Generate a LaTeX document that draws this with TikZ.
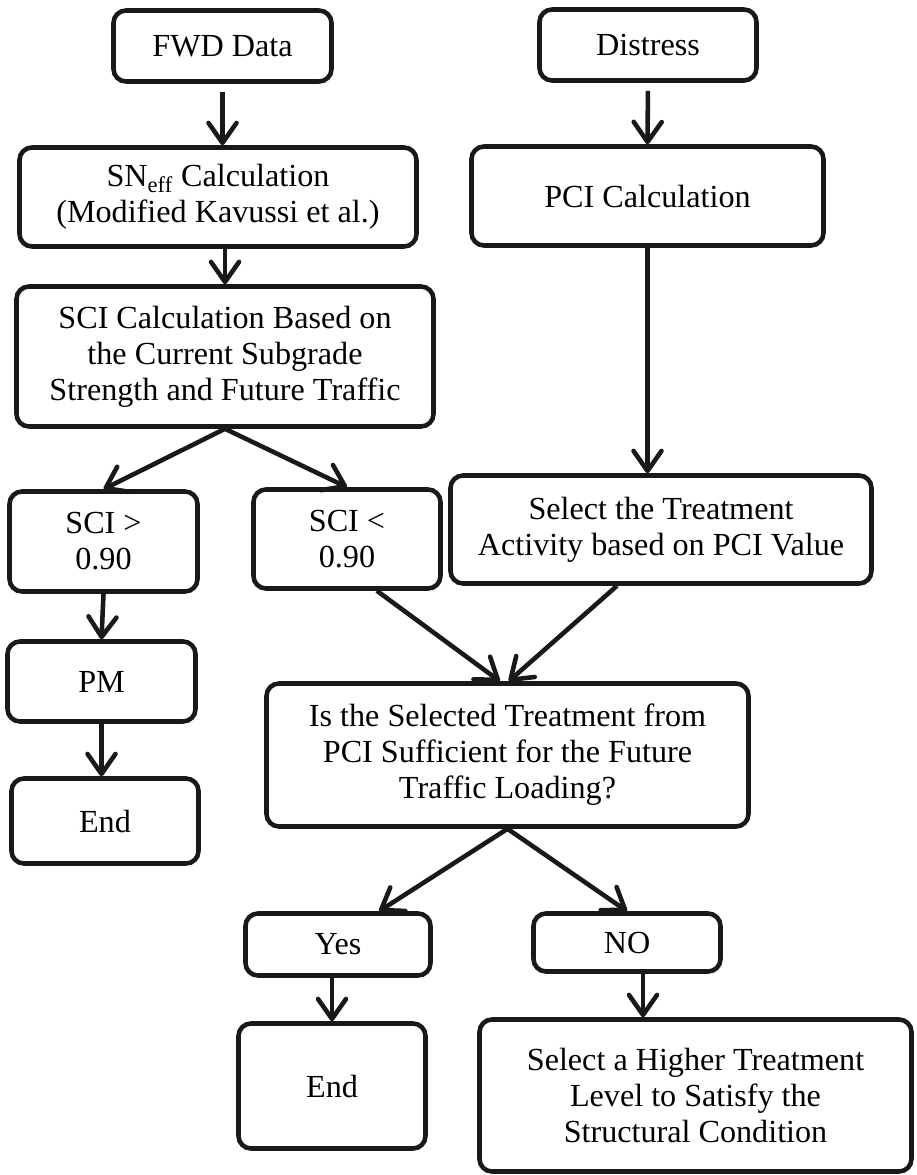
\documentclass[tikz,border=0pt]{standalone}
\usepackage{fontspec}
\setmainfont{Liberation Serif}
\usetikzlibrary{arrows.meta}

\begin{document}
\begin{tikzpicture}[
        box/.style={draw=black!90, line width=2.6pt, rounded corners=0.25cm,
            align=center, inner sep=0pt, font=\fontsize{18.3}{20.5}\selectfont},
        flow/.style={draw=black!90, line width=2.6pt,
            -{Straight Barb[length=0.4cm, width=0.56cm, round]}}
    ]
    \useasboundingbox (0,0) rectangle (18.32,-23.5);
    % Left branch: structural capacity
    \node[box, minimum width=4.36cm, minimum height=1.42cm] (fwd) at (4.45,-0.92) {FWD Data};
    \node[box, minimum width=7.94cm, minimum height=1.98cm] (sneff) at (4.36,-3.94)
        {SN\textsubscript{eff} Calculation\\(Modified Kavussi et al.)};
    \node[box, minimum width=8.34cm, minimum height=2.8cm] (sci) at (4.5,-7.13)
        {SCI Calculation Based on\\the Current Subgrade\\Strength and Future Traffic};
    \node[box, minimum width=3.76cm, minimum height=2cm] (scihi) at (2.07,-10.83) {SCI >\\0.90};
    \node[box, minimum width=3.74cm, minimum height=1.98cm] (scilo) at (6.94,-10.78) {SCI <\\0.90};
    \node[box, minimum width=3.76cm, minimum height=1.6cm] (pm) at (2.03,-13.63) {PM};
    \node[box, minimum width=3.74cm, minimum height=1.7cm] (endl) at (2.1,-16.42) {End};
    % Right branch: surface condition
    \node[box, minimum width=4.34cm, minimum height=1.42cm] (distress) at (12.96,-0.9) {Distress};
    \node[box, minimum width=7.04cm, minimum height=1.98cm] (pci) at (12.95,-3.92) {PCI Calculation};
    \node[box, minimum width=8.42cm, minimum height=2.16cm] (select) at (13.22,-10.59)
        {Select the Treatment\\Activity based on PCI Value};
    % Decision
    \node[box, minimum width=9.64cm, minimum height=2.86cm] (suff) at (10.15,-15.1)
        {Is the Selected Treatment from\\PCI Sufficient for the Future\\Traffic Loading?};
    \node[box, minimum width=3.7cm, minimum height=1.24cm] (yes) at (6.76,-18.89) {Yes};
    \node[box, minimum width=3.74cm, minimum height=1.16cm] (no) at (12.54,-18.85) {NO};
    \node[box, minimum width=3.74cm, minimum height=2.5cm] (endr) at (6.64,-21.72) {End};
    \node[box, minimum width=8.64cm, minimum height=3.04cm] (higher) at (13.91,-21.91)
        {Select a Higher Treatment\\Level to Satisfy the\\Structural Condition};

    % Arrows, left
    \draw[flow, shorten <=0.16cm] (fwd.south) -- (fwd.south |- sneff.north);
    \draw[flow] (sneff.south -| sci.north) -- (sci.north);
    \foreach \a/\b in {sci/scihi, sci/scilo, scihi/pm}
        \draw[flow] (\a.south) -- (\b.north);
    \draw[flow] (pm.south) -- (pm.south |- endl.north);
    % Arrows, right
    \draw[flow, shorten <=0.16cm] (distress.south) -- (pci.north);
    \draw[flow] (pci.south) -- (pci.south |- select.north);
    \draw[flow] (scilo.-60) -- (suff.96);
    \draw[flow] (select.232) -- (suff.89);
    % Arrows, decision
    \draw[flow] (suff.south) -- (yes.39);
    \draw[flow] (suff.south) -- (no.north);
    \draw[flow] (endr.north |- yes.south) -- (endr.north);
    \coordinate (nodrop) at ([xshift=0.32cm]no.south);
    \draw[flow] (nodrop) -- (nodrop |- higher.north);
\end{tikzpicture}
\end{document}
